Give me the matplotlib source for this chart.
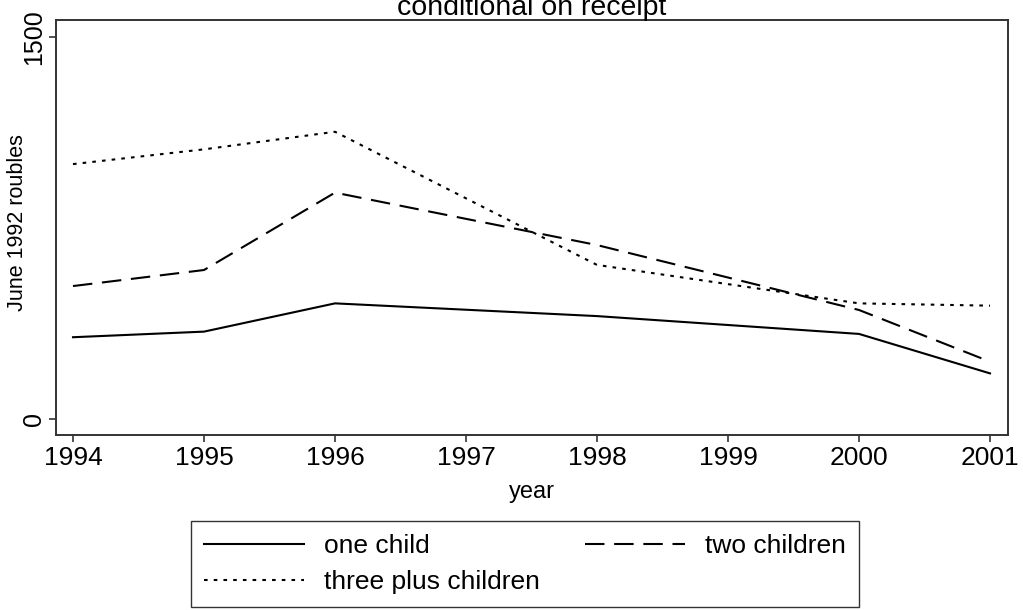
import matplotlib.pyplot as plt

plt.rcParams['font.family'] = ['Liberation Sans', 'DejaVu Sans']
plt.rcParams['lines.scale_dashes'] = False

years = [1994, 1995, 1996, 1998, 2000, 2001]
one_child = [321, 343, 454, 404, 334, 179]
two_children = [522, 585, 889, 683, 428, 225]
three_plus = [1001, 1059, 1128, 605, 454, 445]

x_ticks = list(range(1994, 2002))
y_ticks = [0, 1500]

fig = plt.figure(figsize=(10.23, 6.1), dpi=100)
ax = fig.add_axes([0.0547, 0.2869, 0.9306, 0.6803])

l1, = ax.plot(years, one_child, color='black', lw=1.5, label='one child')
l2, = ax.plot(years, two_children, color='black', lw=1.5, dashes=(14, 7),
              label='two children')
l3, = ax.plot(years, three_plus, color='black', lw=1.5, dashes=(2.6, 4.4),
              label='three plus children')

ax.set_xlim(1993.87, 2001.137)
ax.set_ylim(-63, 1567)
ax.set_xticks(x_ticks)
ax.set_yticks(y_ticks)
ax.tick_params(axis='both', direction='out', length=5, width=1.2,
               colors='#333333', labelcolor='black')
ax.tick_params(axis='x', labelsize=19, pad=3)
ax.tick_params(axis='y', labelsize=18, pad=2)
for lab in ax.get_yticklabels():
  lab.set_rotation(90)
  lab.set_va('center')
for s in ax.spines.values():
  s.set_color('#333333')
  s.set_linewidth(1.4)

ax.set_xlabel('year', fontsize=17, labelpad=8)
fig.text(18 / 1023, 1 - 223 / 610, 'June 1992 roubles', fontsize=15.5,
         rotation=90, ha='center', va='center')

fig.text(0.52, 0.975, 'conditional on receipt', fontsize=20.5,
         ha='center', va='baseline')

# row-wise order: one child, two children / three plus children
leg = fig.legend([l1, l3, l2], ['one child', 'three plus children', 'two children'],
                 loc='center', bbox_to_anchor=(525 / 1023, 1 - 564 / 610),
                 ncol=2, fontsize=19, frameon=True, fancybox=False,
                 edgecolor='black', handlelength=3.8, handletextpad=0.75,
                 columnspacing=1.7, borderpad=0.5, labelspacing=0.45)
leg.get_frame().set_linewidth(1.0)

fig.savefig('out.png', dpi=100)
